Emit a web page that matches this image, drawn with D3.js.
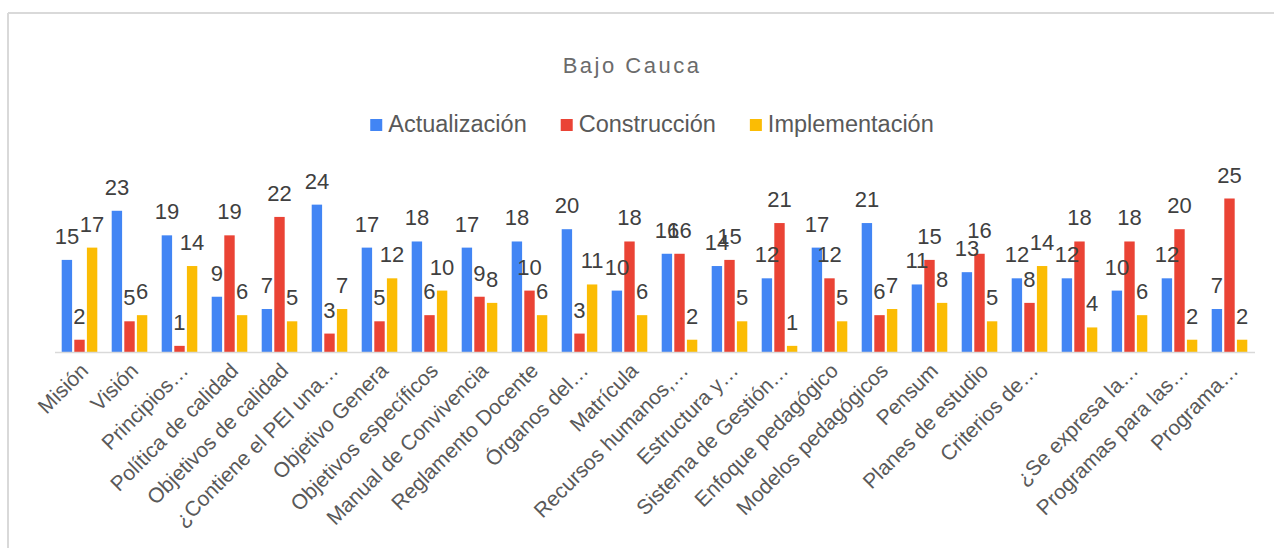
<!DOCTYPE html>
<html lang="es">
<head>
<meta charset="utf-8">
<script src="https://cdn.jsdelivr.net/npm/d3@7"></script>
<style>
    body { margin: 0; background: #fff; }
    svg { display: block; font-family: "Liberation Sans", Arial, sans-serif; }
</style>
</head>
<body>
<svg id="grafico" width="1274" height="548"></svg>
<script>
// Datos del gráfico
const categorias = [
    "Misión", "Visión", "Principios…", "Política de calidad", "Objetivos de calidad",
    "¿Contiene el PEI una…", "Objetivo Genera", "Objetivos específicos", "Manual de Convivencia",
    "Reglamento Docente", "Órganos del…", "Matrícula", "Recursos humanos,…", "Estructura y…",
    "Sistema de Gestión…", "Enfoque pedagógico", "Modelos pedagógicos", "Pensum",
    "Planes de estudio", "Criterios de…", "", "¿Se expresa la…", "Programas para las…", "Programa…"
];
const series = ["Actualización", "Construcción", "Implementación"];
const actualizacion  = [15, 23, 19, 9, 7, 24, 17, 18, 17, 18, 20, 10, 16, 14, 12, 17, 21, 11, 13, 12, 12, 10, 12, 7];
const construccion   = [2, 5, 1, 19, 22, 3, 5, 6, 9, 10, 3, 18, 16, 15, 21, 12, 6, 15, 16, 8, 18, 18, 20, 25];
const implementacion = [17, 6, 14, 6, 5, 7, 12, 10, 8, 6, 11, 6, 2, 5, 1, 5, 7, 8, 5, 14, 4, 6, 2, 2];
const colores = ["#4285F4", "#EA4335", "#FBBC04"];

const valores = [actualizacion, construccion, implementacion];
const width = 1274, height = 548;
const svg = d3.select("#grafico");

// Marco gris (solo arriba e izquierda, como en la captura)
svg.append("line")
    .attr("x1", 8).attr("y1", 13).attr("x2", width).attr("y2", 13)
    .attr("stroke", "#d9d9d9").attr("stroke-width", 2);
svg.append("line")
    .attr("x1", 8).attr("y1", 13).attr("x2", 8).attr("y2", height)
    .attr("stroke", "#d9d9d9").attr("stroke-width", 2);

// Escalas
const x0 = d3.scaleBand()
    .domain(d3.range(categorias.length))
    .range([54.5, 1254.5])
    .paddingInner(0.288)
    .paddingOuter(0.144);

const x1 = d3.scaleBand()
    .domain(series)
    .range([0, x0.bandwidth()])
    .paddingInner(0.175);

const y = d3.scaleLinear()
    .domain([0, 25])
    .range([352, 198.5]);

// Título
svg.append("text")
    .attr("x", 632)
    .attr("y", 73)
    .attr("text-anchor", "middle")
    .attr("font-size", 22)
    .attr("letter-spacing", 2.5)
    .attr("fill", "#6b6b6b")
    .text("Bajo Cauca");

// Leyenda
const leyenda = svg.append("g");
let lx = 0;
series.forEach((s, i) => {
    const item = leyenda.append("g").attr("transform", `translate(${lx},0)`);
    item.append("rect")
        .attr("x", 0).attr("y", 119)
        .attr("width", 12).attr("height", 12)
        .attr("fill", colores[i]);
    const t = item.append("text")
        .attr("x", 18).attr("y", 132)
        .attr("font-size", 23.5)
        .attr("fill", "#595959")
        .text(s);
    lx += 18 + t.node().getComputedTextLength() + 34;
});
const anchoLeyenda = lx - 34;
leyenda.attr("transform", `translate(${652 - anchoLeyenda / 2},0)`);

// Grupos de barras
const grupos = svg.append("g")
    .selectAll("g")
    .data(categorias.map((c, i) => i))
    .join("g")
    .attr("transform", i => `translate(${x0(i)},0)`);

grupos.selectAll("rect")
    .data(i => series.map((s, k) => ({ serie: s, valor: valores[k][i], color: colores[k] })))
    .join("rect")
    .attr("x", d => x1(d.serie))
    .attr("y", d => y(d.valor))
    .attr("width", x1.bandwidth())
    .attr("height", d => y(0) - y(d.valor))
    .attr("fill", d => d.color);

// Etiquetas de valor encima de cada barra
grupos.selectAll("text")
    .data(i => series.map((s, k) => ({ serie: s, valor: valores[k][i] })))
    .join("text")
    .attr("x", d => x1(d.serie) + x1.bandwidth() / 2)
    .attr("y", d => y(d.valor) - 16)
    .attr("text-anchor", "middle")
    .attr("font-size", 22)
    .attr("fill", "#404040")
    .text(d => d.valor);

// Eje X
const ejeX = svg.append("g")
    .attr("transform", `translate(0,${y(0)})`)
    .call(d3.axisBottom(x0).tickSize(0).tickFormat(i => categorias[i]));

ejeX.select(".domain")
    .attr("stroke", "#d9d9d9")
    .attr("stroke-width", 1.5);

ejeX.selectAll("text")
    .attr("font-size", 21)
    .attr("fill", "#595959")
    .attr("text-anchor", "end")
    .attr("dy", null)
    .attr("y", 0)
    .attr("transform", "translate(10,20) rotate(-45)");
</script>
</body>
</html>
